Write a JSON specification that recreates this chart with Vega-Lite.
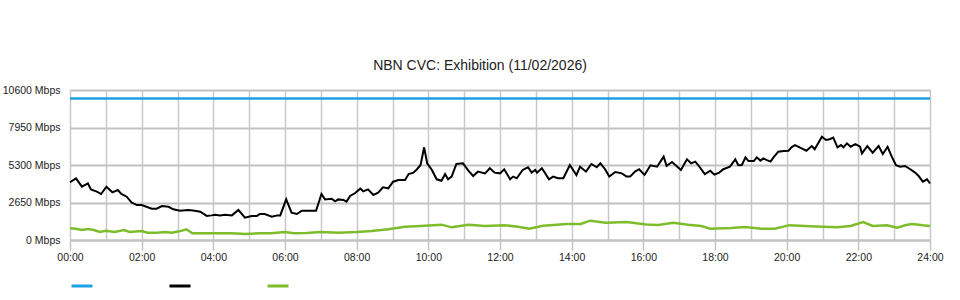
{
  "$schema": "https://vega.github.io/schema/vega-lite/v6.json",
  "autosize": {"type": "none"},
  "width": 860,
  "height": 150,
  "padding": {"left": 70, "top": 90, "right": 30, "bottom": 60},
  "background": "white",
  "config": {
    "font": "Liberation Sans",
    "view": {"stroke": null},
    "axis": {"labelFont": "Liberation Sans", "labelFontSize": 10.5, "labelColor": "#222"}
  },
  "title": {"text": "NBN CVC: Exhibition (11/02/2026)", "font": "Liberation Sans", "fontSize": 14, "fontWeight": "normal", "color": "#222", "offset": 12, "dx": -20},
  "datasets": {
    "cap": [
      {"t": 0, "s": "Capacity", "v": 10000},
      {"t": 24, "s": "Capacity", "v": 10000}
    ],
    "use": [
      {"t": 0.0, "v": 4080}, {"t": 0.167, "v": 4360}, {"t": 0.333, "v": 3770}, {"t": 0.5, "v": 4000}, {"t": 0.583, "v": 3580}, {"t": 0.75, "v": 3420}, {"t": 0.867, "v": 3250},
      {"t": 1.017, "v": 3770}, {"t": 1.183, "v": 3370}, {"t": 1.333, "v": 3530}, {"t": 1.433, "v": 3250}, {"t": 1.583, "v": 3060}, {"t": 1.717, "v": 2660}, {"t": 1.867, "v": 2470},
      {"t": 2.0, "v": 2470}, {"t": 2.133, "v": 2350}, {"t": 2.283, "v": 2210}, {"t": 2.417, "v": 2210}, {"t": 2.567, "v": 2400}, {"t": 2.75, "v": 2350}, {"t": 2.883, "v": 2170},
      {"t": 3.067, "v": 2070}, {"t": 3.3, "v": 2120}, {"t": 3.483, "v": 2070}, {"t": 3.633, "v": 2000}, {"t": 3.817, "v": 1700}, {"t": 3.95, "v": 1740},
      {"t": 4.05, "v": 1790}, {"t": 4.183, "v": 1740}, {"t": 4.333, "v": 1790}, {"t": 4.517, "v": 1740}, {"t": 4.7, "v": 2120}, {"t": 4.883, "v": 1580},
      {"t": 5.067, "v": 1700}, {"t": 5.217, "v": 1700}, {"t": 5.3, "v": 1840}, {"t": 5.433, "v": 1840}, {"t": 5.633, "v": 1650}, {"t": 5.783, "v": 1740}, {"t": 5.867, "v": 1740},
      {"t": 6.033, "v": 2870}, {"t": 6.183, "v": 1930}, {"t": 6.333, "v": 1840}, {"t": 6.467, "v": 2070}, {"t": 6.7, "v": 2070}, {"t": 6.867, "v": 2070},
      {"t": 7.017, "v": 3250}, {"t": 7.117, "v": 2870}, {"t": 7.3, "v": 2920}, {"t": 7.4, "v": 2730}, {"t": 7.483, "v": 2870}, {"t": 7.633, "v": 2830}, {"t": 7.717, "v": 2710}, {"t": 7.817, "v": 3110}, {"t": 7.95, "v": 3300},
      {"t": 8.1, "v": 3630}, {"t": 8.183, "v": 3440}, {"t": 8.317, "v": 3580}, {"t": 8.467, "v": 3180}, {"t": 8.6, "v": 3350}, {"t": 8.733, "v": 3720}, {"t": 8.883, "v": 3650},
      {"t": 9.017, "v": 4120}, {"t": 9.167, "v": 4240}, {"t": 9.35, "v": 4240}, {"t": 9.45, "v": 4660}, {"t": 9.583, "v": 4760}, {"t": 9.683, "v": 5000}, {"t": 9.783, "v": 5300}, {"t": 9.883, "v": 6550}, {"t": 9.967, "v": 5420},
      {"t": 10.1, "v": 4950}, {"t": 10.233, "v": 4290}, {"t": 10.367, "v": 4190}, {"t": 10.467, "v": 4660}, {"t": 10.55, "v": 4290}, {"t": 10.65, "v": 4480}, {"t": 10.783, "v": 5370}, {"t": 10.967, "v": 5420},
      {"t": 11.117, "v": 4900}, {"t": 11.25, "v": 4520}, {"t": 11.383, "v": 4830}, {"t": 11.583, "v": 4710}, {"t": 11.717, "v": 5070}, {"t": 11.85, "v": 4760},
      {"t": 12.0, "v": 4710}, {"t": 12.117, "v": 5000}, {"t": 12.283, "v": 4290}, {"t": 12.367, "v": 4480}, {"t": 12.467, "v": 4360}, {"t": 12.633, "v": 4950}, {"t": 12.783, "v": 5140}, {"t": 12.883, "v": 4760}, {"t": 12.983, "v": 4950},
      {"t": 13.033, "v": 4760}, {"t": 13.167, "v": 5070}, {"t": 13.25, "v": 4760}, {"t": 13.367, "v": 4290}, {"t": 13.483, "v": 4480}, {"t": 13.617, "v": 4360}, {"t": 13.767, "v": 4360}, {"t": 13.95, "v": 5300},
      {"t": 14.133, "v": 4590}, {"t": 14.233, "v": 5180}, {"t": 14.4, "v": 4830}, {"t": 14.55, "v": 5370}, {"t": 14.7, "v": 5140}, {"t": 14.8, "v": 5420}, {"t": 14.933, "v": 5000},
      {"t": 15.05, "v": 4480}, {"t": 15.217, "v": 4800}, {"t": 15.4, "v": 4710}, {"t": 15.533, "v": 4480}, {"t": 15.633, "v": 4480}, {"t": 15.767, "v": 4830}, {"t": 15.883, "v": 5000},
      {"t": 16.033, "v": 4600}, {"t": 16.2, "v": 5280}, {"t": 16.383, "v": 5180}, {"t": 16.567, "v": 5890}, {"t": 16.65, "v": 5230}, {"t": 16.8, "v": 5510},
      {"t": 17.05, "v": 4950}, {"t": 17.217, "v": 5700}, {"t": 17.333, "v": 5420}, {"t": 17.45, "v": 5540}, {"t": 17.55, "v": 5230}, {"t": 17.717, "v": 4660}, {"t": 17.867, "v": 4900}, {"t": 17.983, "v": 4620},
      {"t": 18.117, "v": 4760}, {"t": 18.233, "v": 5000}, {"t": 18.417, "v": 5180}, {"t": 18.567, "v": 5700}, {"t": 18.65, "v": 5280}, {"t": 18.75, "v": 5300}, {"t": 18.85, "v": 5840}, {"t": 18.933, "v": 5580},
      {"t": 19.083, "v": 5580}, {"t": 19.167, "v": 5840}, {"t": 19.267, "v": 5610}, {"t": 19.35, "v": 5770}, {"t": 19.45, "v": 5650}, {"t": 19.55, "v": 5540}, {"t": 19.633, "v": 5840}, {"t": 19.767, "v": 6240}, {"t": 19.917, "v": 6290},
      {"t": 20.05, "v": 6300}, {"t": 20.133, "v": 6550}, {"t": 20.233, "v": 6700}, {"t": 20.417, "v": 6480}, {"t": 20.55, "v": 6310}, {"t": 20.7, "v": 6640}, {"t": 20.783, "v": 6410}, {"t": 20.983, "v": 7300},
      {"t": 21.1, "v": 7070}, {"t": 21.2, "v": 7120}, {"t": 21.3, "v": 7230}, {"t": 21.417, "v": 6550}, {"t": 21.517, "v": 6710}, {"t": 21.583, "v": 6550}, {"t": 21.683, "v": 6830}, {"t": 21.783, "v": 6590}, {"t": 21.917, "v": 6780},
      {"t": 22.05, "v": 6590}, {"t": 22.1, "v": 6120}, {"t": 22.25, "v": 6640}, {"t": 22.4, "v": 6170}, {"t": 22.567, "v": 6640}, {"t": 22.683, "v": 6080}, {"t": 22.817, "v": 6590}, {"t": 22.933, "v": 5890},
      {"t": 23.05, "v": 5280}, {"t": 23.167, "v": 5180}, {"t": 23.3, "v": 5230}, {"t": 23.45, "v": 5000}, {"t": 23.583, "v": 4760}, {"t": 23.683, "v": 4520}, {"t": 23.8, "v": 4120}, {"t": 23.917, "v": 4290}, {"t": 24.0, "v": 3990}
    ],
    "low": [
      {"t": 0.0, "v": 825}, {"t": 0.167, "v": 800}, {"t": 0.333, "v": 707}, {"t": 0.5, "v": 777}, {"t": 0.667, "v": 707}, {"t": 0.833, "v": 565},
      {"t": 1.0, "v": 660}, {"t": 1.25, "v": 565}, {"t": 1.5, "v": 707}, {"t": 1.667, "v": 565}, {"t": 2.0, "v": 636}, {"t": 2.167, "v": 520}, {"t": 2.417, "v": 520},
      {"t": 2.667, "v": 565}, {"t": 2.833, "v": 520}, {"t": 3.05, "v": 612}, {"t": 3.25, "v": 754}, {"t": 3.417, "v": 470}, {"t": 4.0, "v": 470}, {"t": 4.5, "v": 480},
      {"t": 4.9, "v": 420}, {"t": 5.3, "v": 480}, {"t": 5.6, "v": 470}, {"t": 6.0, "v": 565}, {"t": 6.25, "v": 480}, {"t": 6.6, "v": 490}, {"t": 7.0, "v": 560},
      {"t": 7.5, "v": 520}, {"t": 8.0, "v": 565}, {"t": 8.417, "v": 640}, {"t": 8.883, "v": 754}, {"t": 9.35, "v": 943}, {"t": 9.783, "v": 990},
      {"t": 10.367, "v": 1084}, {"t": 10.65, "v": 895}, {"t": 11.117, "v": 1084}, {"t": 11.583, "v": 990}, {"t": 12.133, "v": 1040}, {"t": 12.5, "v": 943},
      {"t": 12.817, "v": 800}, {"t": 13.2, "v": 1013}, {"t": 13.867, "v": 1130}, {"t": 14.25, "v": 1130}, {"t": 14.517, "v": 1366}, {"t": 14.95, "v": 1225},
      {"t": 15.533, "v": 1272}, {"t": 16.083, "v": 1100}, {"t": 16.417, "v": 1060}, {"t": 16.833, "v": 1225}, {"t": 17.25, "v": 1084}, {"t": 17.617, "v": 990},
      {"t": 17.867, "v": 800}, {"t": 18.45, "v": 848}, {"t": 18.833, "v": 919}, {"t": 19.3, "v": 800}, {"t": 19.667, "v": 800}, {"t": 20.083, "v": 1050},
      {"t": 20.5, "v": 990}, {"t": 21.0, "v": 943}, {"t": 21.417, "v": 895}, {"t": 21.783, "v": 990}, {"t": 22.133, "v": 1272}, {"t": 22.4, "v": 990},
      {"t": 22.8, "v": 1037}, {"t": 23.083, "v": 872}, {"t": 23.333, "v": 1060}, {"t": 23.5, "v": 1130}, {"t": 23.8, "v": 1037}, {"t": 24.0, "v": 990}
    ],
    "leg": [
      {"s": "Capacity"}, {"s": "Traffic"}, {"s": "Baseline"}
    ]
  },
  "layer": [
    {
      "data": {"name": "cap"},
      "mark": {"type": "line", "strokeWidth": 2.5, "color": "#1da1e2"},
      "encoding": {
        "x": {"field": "t", "type": "quantitative", "scale": {"domain": [0, 24], "nice": false, "zero": false},
              "axis": {"orient": "top", "values": [0,1,2,3,4,5,6,7,8,9,10,11,12,13,14,15,16,17,18,19,20,21,22,23,24], "grid": true, "gridColor": "#c8c8c8", "gridWidth": 1.5, "labels": false, "ticks": false, "domain": false, "title": null}},
        "y": {"field": "v", "type": "quantitative", "scale": {"domain": [0, 10600], "nice": false},
              "axis": {"values": [0, 2650, 5300, 7950, 10600], "labelExpr": "datum.value + ' Mbps'", "labelOverlap": false, "grid": true, "gridColor": "#c2c2c2", "gridWidth": 2, "ticks": false, "domain": false, "labelPadding": 10, "title": null}}
      }
    },
    {
      "data": {"name": "use"},
      "mark": {"type": "line", "strokeWidth": 2, "color": "#000000"},
      "encoding": {
        "x": {"field": "t", "type": "quantitative",
              "axis": {"orient": "bottom", "values": [0,2,4,6,8,10,12,14,16,18,20,22,24], "labelExpr": "(datum.value < 10 ? '0' : '') + datum.value + ':00'", "labelFlush": false, "grid": false, "ticks": true, "tickSize": 10, "tickColor": "#c2c2c2", "tickWidth": 1.5, "domain": true, "domainColor": "#c2c2c2", "domainWidth": 2, "labelPadding": 2, "title": null}},
        "y": {"field": "v", "type": "quantitative",
              "axis": {"values": [0, 2650, 5300, 7950, 10600], "labelExpr": "datum.value + ' Mbps'", "labelOverlap": false, "grid": true, "gridColor": "#c2c2c2", "gridWidth": 2, "ticks": false, "domain": false, "labelPadding": 10, "title": null}}
      }
    },
    {
      "data": {"name": "low"},
      "mark": {"type": "line", "strokeWidth": 2.5, "color": "#7dbd2c"},
      "encoding": {
        "x": {"field": "t", "type": "quantitative", "axis": null},
        "y": {"field": "v", "type": "quantitative",
              "axis": {"values": [0, 2650, 5300, 7950, 10600], "labelExpr": "datum.value + ' Mbps'", "labelOverlap": false, "grid": true, "gridColor": "#c2c2c2", "gridWidth": 2, "ticks": false, "domain": false, "labelPadding": 10, "title": null}}
      }
    },
    {
      "data": {"name": "leg"},
      "mark": {"type": "point", "opacity": 0},
      "encoding": {
        "color": {"field": "s", "type": "nominal", "sort": null,
                  "scale": {"domain": ["Capacity", "Traffic", "Baseline"], "range": ["#1da1e2", "#000000", "#7dbd2c"]},
                  "legend": {"orient": "bottom", "direction": "horizontal", "title": null, "symbolType": "stroke", "symbolSize": 441, "symbolStrokeWidth": 3, "symbolOpacity": 1, "labelExpr": "''", "labelOffset": 0, "columnPadding": 64, "offset": 11}}
      }
    }
  ],
  "resolve": {"axis": {"x": "independent"}}
}
